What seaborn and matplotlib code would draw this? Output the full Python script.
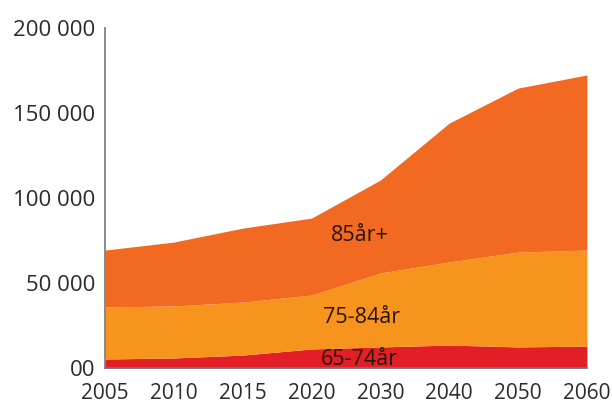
import matplotlib
matplotlib.use("Agg")
import matplotlib.pyplot as plt
import seaborn as sns
import numpy as np

years = ["2005", "2010", "2015", "2020", "2030", "2040", "2050", "2060"]
age_65_74 = [5300, 5900, 7600, 11200, 12400, 13500, 12400, 12900]
age_75_84 = [30600, 30600, 31200, 31700, 43500, 48900, 55800, 56500]
age_85_plus = [33500, 37600, 43500, 45300, 54700, 81700, 96500, 103000]
series_labels = ["65-74år", "75-84år", "85år+"]
y_ticks = [0, 50000, 100000, 150000, 200000]
y_tick_labels = ["00", "50 000", "100 000", "150 000", "200 000"]

sns.set_style("white")
plt.rcParams["font.family"] = ["Open Sans", "DejaVu Sans"]

fig = plt.figure(figsize=(6.12, 4.07), dpi=100)
ax = fig.add_axes([0.1716, 0.0958, 0.959 - 0.1716, 0.931 - 0.0958])

x = np.arange(len(years))
colors = ["#E21E26", "#F7941E", "#F26A22"]
ax.stackplot(x, age_65_74, age_75_84, age_85_plus, colors=colors, linewidth=0)

ax.set_xlim(0, len(years) - 1)
ax.set_ylim(0, 200000)
ax.set_xticks(x)
ax.set_xticklabels(years)
ax.set_yticks(y_ticks)
ax.set_yticklabels(y_tick_labels)

for s in ["top", "right"]:
    ax.spines[s].set_visible(False)
for s in ["left", "bottom"]:
    ax.spines[s].set_color("#777777")
    ax.spines[s].set_linewidth(1.2)
ax.tick_params(axis="both", direction="out", length=5, width=1, color="#777777",
               labelcolor="#2b2b2b")
ax.tick_params(axis="y", pad=2, labelsize=16)
ax.tick_params(axis="x", pad=6, labelsize=15)

txt_color = "#2a1408"
ax.text(3.70, 78000, series_labels[2], fontsize=15.5, color=txt_color, ha="center", va="center")
ax.text(3.72, 30000, series_labels[1], fontsize=15.5, color=txt_color, ha="center", va="center")
ax.text(3.70, 5200, series_labels[0], fontsize=15.5, color=txt_color, ha="center", va="center")

fig.savefig("out.png", dpi=100)
